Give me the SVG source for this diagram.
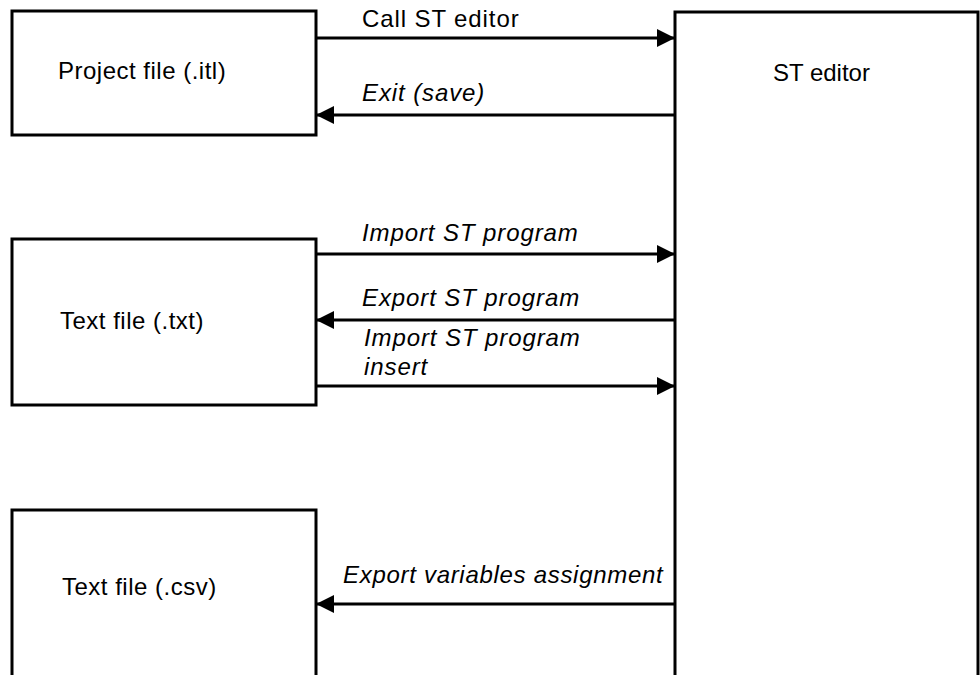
<svg xmlns="http://www.w3.org/2000/svg" width="980" height="675" viewBox="0 0 980 675">
<style>
.box{fill:#fff;stroke:#000;stroke-width:3}
.node{font-family:"Liberation Sans",Arial,sans-serif;font-size:24px;fill:#000}
.wide{letter-spacing:0.5px}
.lbl{font-family:"Liberation Sans",Arial,sans-serif;font-size:24px;fill:#000;letter-spacing:0.9px}
.it{font-style:italic}
.edge{stroke:#000;stroke-width:3.2;fill:none}
</style>
<defs>
<marker id="ah" viewBox="0 0 18 18" refX="18" refY="9" markerWidth="18" markerHeight="18" markerUnits="userSpaceOnUse" orient="auto">
<path d="M0,0 L18,9 L0,18 Z" fill="#000"/>
</marker>
</defs>
<rect width="980" height="675" fill="#fff"/>
<g id="project-file">
<rect class="box" x="12" y="11" width="304" height="124"/>
<text class="node wide" x="58" y="79">Project file (.itl)</text>
</g>
<g id="st-editor">
<rect class="box" x="675" y="12" width="303" height="700"/>
<text class="node" x="773" y="81">ST editor</text>
</g>
<g id="text-file-txt">
<rect class="box" x="12" y="239" width="304" height="166"/>
<text class="node wide" x="60" y="329">Text file (.txt)</text>
</g>
<g id="text-file-csv">
<rect class="box" x="12" y="510" width="304" height="200"/>
<text class="node wide" x="62" y="595">Text file (.csv)</text>
</g>
<g id="connectors">
<line class="edge" x1="316" y1="38" x2="675" y2="38" marker-end="url(#ah)"/>
<text class="lbl" x="362" y="27">Call ST editor</text>
<line class="edge" x1="675" y1="115" x2="316" y2="115" marker-end="url(#ah)"/>
<text class="lbl it" x="362" y="101">Exit (save)</text>
<line class="edge" x1="316" y1="254" x2="675" y2="254" marker-end="url(#ah)"/>
<text class="lbl it" x="362" y="241">Import ST program</text>
<line class="edge" x1="675" y1="320" x2="316" y2="320" marker-end="url(#ah)"/>
<text class="lbl it" x="362" y="306">Export ST program</text>
<line class="edge" x1="316" y1="386" x2="675" y2="386" marker-end="url(#ah)"/>
<text class="lbl it" x="364" y="346">Import ST program</text>
<text class="lbl it" x="364" y="375">insert</text>
<line class="edge" x1="675" y1="604" x2="316" y2="604" marker-end="url(#ah)"/>
<text class="lbl it" x="343" y="583" style="letter-spacing:0.7px">Export variables assignment</text>
</g>
</svg>
